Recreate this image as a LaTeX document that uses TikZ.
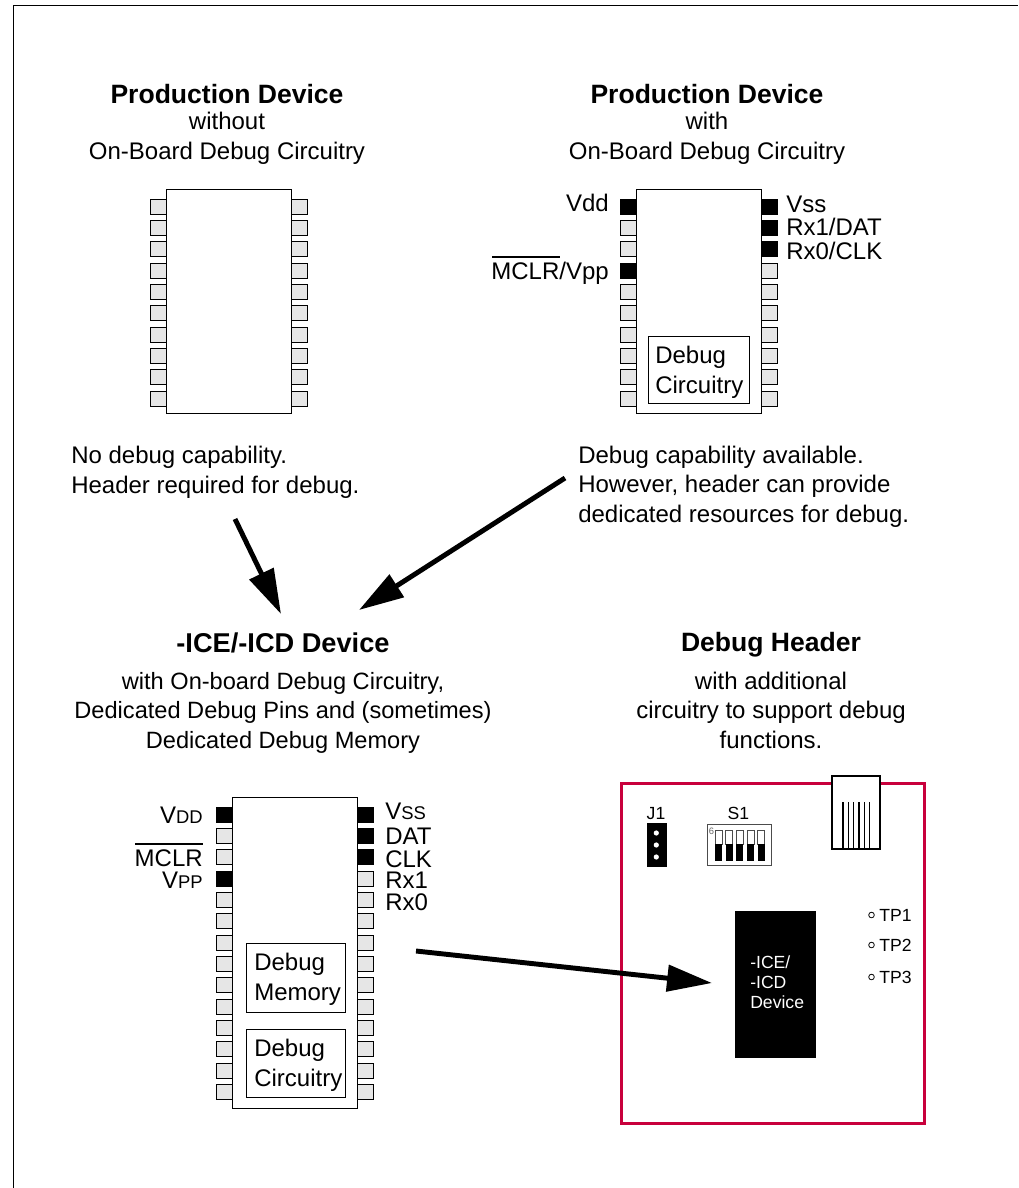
\documentclass[tikz,border=0pt]{standalone}
\usepackage{fontspec}
\setmainfont{Liberation Sans}
\usetikzlibrary{arrows.meta}
\definecolor{pinfill}{HTML}{E6E6E6}
\definecolor{hdrred}{HTML}{C8003C}
\newcommand{\bodyfs}{\fontsize{18pt}{22pt}\selectfont}
\newcommand{\bodysfs}{\fontsize{17.7pt}{22pt}\selectfont}
\newcommand{\titlefs}{\fontsize{19.9pt}{23pt}\selectfont\bfseries}
\newcommand{\smallfs}{\fontsize{13.2pt}{16pt}\selectfont}
\newcommand{\capsfs}[1]{{\fontsize{13.8pt}{16pt}\selectfont #1}}
\tikzset{
  x=0.75pt,y=-0.75pt,
  body/.style={font=\bodyfs,inner sep=0pt,anchor=base},
  bodys/.style={font=\bodysfs,inner sep=0pt,anchor=base},
  bodyl/.style={font=\bodyfs,inner sep=0pt,anchor=base west},
  bodyr/.style={font=\bodyfs,inner sep=0pt,anchor=base east},
  titletext/.style={font=\titlefs,inner sep=0pt,anchor=base},
  tptext/.style={font=\smallfs,inner sep=0pt,anchor=base west},
  icetext/.style={font=\smallfs,inner sep=0pt,anchor=base west,text=white},
  chipline/.style={draw=black,line width=0.75pt},
  pinoff/.style={draw=black,line width=0.7pt,fill=pinfill},
  pinon/.style={draw=black,line width=0.7pt,fill=black},
  inner box/.style={draw=black,line width=0.7pt,fill=white},
  bigarrow/.style={line width=3.7pt,-{Triangle[length=33.7pt,width=19.5pt]}},
}
% \pinrow{left x}{top y of first pin}{count}{list of black rows}
\newcommand{\pinrow}[4]{%
  \foreach \i in {1,...,#3}{%
    \pgfmathsetmacro{\ytop}{#2+(\i-1)*21.33}%
    \def\st{pinoff}%
    \foreach \k in {#4}{\ifnum\k=\i\global\def\stx{1}\fi}%
    \ifdefined\stx\def\st{pinon}\global\let\stx\undefined\fi%
    \draw[\st] (#1,\ytop) rectangle ++(16,15);%
  }%
}
\begin{document}
\begin{tikzpicture}
\useasboundingbox (0,0) rectangle (1018,1188);
\fill[white] (0,0) rectangle (1018,1188);
\draw[line width=0.75pt] (13,1188) -- (13,6) -- (1018,6);

% headings
\node[titletext] (t1) at (227,103.4) {Production Device};
\node[body] (t1a) at (227,129) {without};
\node[body] (t1b) at (227,159) {On-Board Debug Circuitry};
\node[titletext] (t2) at (707,103.4) {Production Device};
\node[body] (t2a) at (707,129) {with};
\node[body] (t2b) at (707,159) {On-Board Debug Circuitry};

% chip 1
\pinrow{150}{199}{10}{0}
\pinrow{291}{199}{10}{0}
\draw[chipline,fill=white] (166,189) rectangle (291,413);

% chip 2
\pinrow{620}{199}{10}{1,4}
\pinrow{761.5}{199}{10}{1,2,3}
\draw[chipline,fill=white] (636.5,189) rectangle (761.5,413);
\draw[inner box] (648,336) rectangle (749,403);
\node[bodyl] (c2d) at (655,363) {Debug};
\node[bodyl] (c2c) at (655,393) {Circuitry};
\node[bodyr] (vdd) at (609,211) {Vdd};
\node[bodyr] (mclr) at (609,279) {MCLR/Vpp};
\draw[line width=0.9pt] (492,257) -- (560,257);
\node[bodyl] (vss) at (786,212) {Vss};
\node[bodyl] (rx1) at (786,235) {Rx1/DAT};
\node[bodyl] (rx0) at (786,259) {Rx0/CLK};

% captions
\node[bodyl] (n1a) at (71,463) {No debug capability.};
\node[bodyl] (n1b) at (71,493) {Header required for debug.};
\node[bodyl] (n2a) at (578,463) {Debug capability available.};
\node[bodyl] (n2b) at (578,492) {However, header can provide};
\node[bodyl] (n2c) at (578,522) {dedicated resources for debug.};

% lower headings
\node[titletext,font=\fontsize{20.4pt}{23pt}\selectfont\bfseries] (t3) at (283,652) {-ICE/-ICD Device};
\node[bodys] (t3a) at (283,689) {with On-board Debug Circuitry,};
\node[bodys] (t3b) at (283,718) {Dedicated Debug Pins and (sometimes)};
\node[bodys] (t3c) at (283,748) {Dedicated Debug Memory};
\node[titletext] (t4) at (771,651) {Debug Header};
\node[body] (t4a) at (771,689) {with additional};
\node[body] (t4b) at (771,718) {circuitry to support debug};
\node[body] (t4c) at (771,748) {functions.};

% chip 3
\pinrow{216}{807}{14}{1,4}
\pinrow{357.5}{807}{14}{1,2,3}
\draw[chipline,fill=white] (232.5,797) rectangle (357.5,1108);
\draw[inner box] (246,943) rectangle (345.5,1012);
\draw[inner box] (246,1029) rectangle (345.5,1097.5);
\node[bodyl] (m1) at (254,970) {Debug};
\node[bodyl] (m2) at (254,1000) {Memory};
\node[bodyl] (c1) at (254,1056) {Debug};
\node[bodyl] (c2) at (254,1086) {Circuitry};
\node[bodyr] (lvdd) at (203,823) {V\capsfs{DD}};
\node[bodyr] (lmclr) at (203,866) {MCLR};
\draw[line width=0.9pt] (135,844) -- (203,844);
\node[bodyr] (lvpp) at (203,888) {V\capsfs{PP}};
\node[bodyl] (lvss) at (385,819) {V\capsfs{SS}};
\node[bodyl] (ldat) at (385,844) {DAT};
\node[bodyl] (lclk) at (385,867) {CLK};
\node[bodyl] (lrx1) at (385,888) {Rx1};
\node[bodyl] (lrx0) at (385,910) {Rx0};

% debug header board
\draw[hdrred,line width=2.25pt] (621.5,783.5) rectangle (924.5,1123.5);
\draw[line width=1.5pt,fill=white] (832,776) rectangle (880,849);
\foreach \x in {843,848.3,853.7,859,864.3,869.7}
  \draw[line width=1pt] (\x,802) -- (\x,849);
\fill[black] (647,823) rectangle (667,867);
\foreach \y in {833,845,857} \fill[white] (656.3,\y) circle (2.6);
\node[font=\smallfs,inner sep=0pt,anchor=base] (j1) at (656,819.5) {J1};
\node[font=\smallfs,inner sep=0pt,anchor=base] (s1) at (738.5,819.5) {S1};
\draw[line width=0.5pt,draw=black!70] (707.5,824.5) rectangle (771,865);
\foreach \x in {715,725.7,736.3,747,757.7}{
  \draw[line width=0.4pt,draw=black!70] (\x,830) rectangle ++(7,14);
  \fill[black] (\x,844) rectangle ++(7,17);
}
\node[font=\fontsize{7pt}{7pt}\selectfont,text=black!60,inner sep=0pt] (six) at (711.5,831) {6};
\fill[black] (735,911) rectangle (816,1058);
\node[icetext] (i1) at (750,968) {-ICE/};
\node[icetext] (i2) at (750,988) {-ICD};
\node[icetext] (i3) at (750,1008) {Device};
\foreach \y/\t/\b in {915/TP1/921,945/TP2/951,977/TP3/983}{
  \draw[line width=0.6pt] (871.5,\y) circle (2.8);
  \node[tptext] (tp\t) at (879,\b) {\t};
}

% arrows
\coordinate (a1s) at (235,519);
\coordinate (a1e) at (281,614);
\coordinate (a2s) at (565,478);
\coordinate (a2e) at (359,610);
\coordinate (a3s) at (416,951);
\coordinate (a3e) at (712,983);
\draw[bigarrow] (a1s) -- (a1e);
\draw[bigarrow] (a2s) -- (a2e);
\draw[bigarrow] (a3s) -- (a3e);
\end{tikzpicture}
\end{document}
